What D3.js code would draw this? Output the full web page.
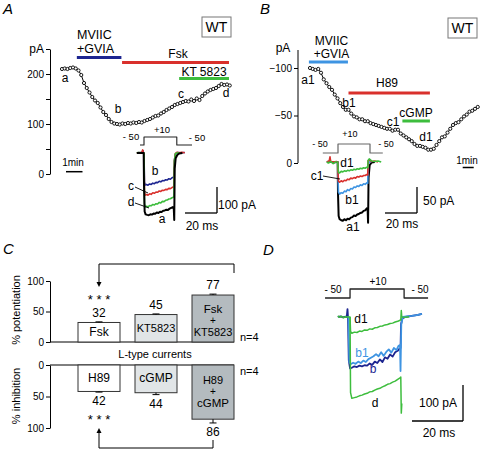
<!DOCTYPE html>
<html><head><meta charset="utf-8">
<script src="https://cdn.jsdelivr.net/npm/d3@7/dist/d3.min.js"></script>
<style>
body{margin:0;background:#fff}
svg{font-family:"Liberation Sans",Arial,sans-serif;display:block}
</style></head><body>
<svg id="c" width="480" height="450"></svg>
<script>
// ================= DATA =================
// Panel A time course (pA), one sample every 10 s
const tcA_dt = 1/6;
const tcA_pA = [210,211,210,212,213,211,207,198,182,172,163,154,147,142,133,124,118,110,104,101,
  100,99,101,100,102,101,103,102,104,103,106,108,110,113,116,117,121,124,128,131,
  134,138,140,142,144,146,145,149,146,151,148,156,161,165,168,170,172,176,180,178,179,177];
const drugA_names = ["MVIIC","Fsk","KT 5823"];
const drugA_start = [0.9, 3.64, 7.1];
const drugA_end = [3.6, 10.12, 10.12];
const tickA = [0,50,100,150,200,250];

// Panel B time course (pA), one sample every 15 s
const tcB_dt = 0.25;
const tcB_pA = [-100,-99,-98,-99,-95,-88,-84,-80,-77,-72,-68,-63,-59,-56,-56,-52,-49,-48,-46,-46,
  -44,-44,-42,-41,-40,-39,-38,-37,-36,-36,-34,-35,-35,-31,-29,-27,-25,-23,-20,-18,
  -18,-17,-16,-14,-14,-15,-19,-23,-27,-28,-32,-36,-40,-42,-43,-46,-49,-51,-54,-55,-57,-59];
const drugB_names = ["MVIIC","H89","cGMP"];
const drugB_start = [-0.1, 3.5, 8.4];
const drugB_end = [3.45, 10.9, 10.9];
const tickB = [-100,-50,0];

// Current traces [ms, pA]
const trA_a = [[-4.5,0],[-2.5,1],[-0.8,0],[-0.2,0],[0,-120],[0.4,-225],[1,-236],[2,-238],[3,-239],[4,-236],[5,-237],[6,-233],[7,-234],[8,-229],[9,-231],[10,-226],[11,-227],[12,-222],[13,-221],[14,-218],[15,-219],[16,-214],[17,-211],[18,-208],[18.6,-212],[18.9,-258],[19.2,-60],[19.8,-20],[20.8,-8],[22,-2],[24,0]];
const trA_b = [[-1.2,0],[-0.6,9],[-0.3,0],[0,0],[0.3,-112],[0.8,-123],[1.5,-121],[2.5,-124],[3.5,-119],[4.5,-121],[5.5,-116],[6.5,-118],[7.5,-113],[8.5,-114],[9.5,-109],[10.5,-111],[11.5,-106],[12.5,-107],[13.5,-103],[14.5,-104],[15.5,-99],[16.5,-101],[17.5,-95],[18.3,-93],[18.7,-90],[19,-30],[19.6,-4],[21,2],[23,1],[25.5,2]];
const trA_c = [[-4.5,1],[-3,0],[-1.5,1],[-0.8,12],[-0.4,0],[0,0],[0.3,-150],[0.8,-162],[1.5,-160],[2.5,-162],[3.5,-157],[4.5,-159],[5.5,-153],[6.5,-155],[7.5,-150],[8.5,-151],[9.5,-146],[10.5,-148],[11.5,-143],[12.5,-144],[13.5,-140],[14.5,-141],[15.5,-136],[16.5,-137],[17.5,-133],[18.3,-131],[18.7,-130],[19,-30],[19.6,-2],[20.5,3],[22,1],[23.5,3],[25.5,1]];
const trA_d = [[-4.5,0],[-3.5,2],[-2.5,-1],[-1.5,1],[-0.5,0],[0,0],[0.3,-196],[0.8,-207],[1.5,-205],[2.5,-207],[3.5,-202],[4.5,-203],[5.5,-198],[6.5,-200],[7.5,-195],[8.5,-196],[9.5,-190],[10.5,-192],[11.5,-186],[12.5,-187],[13.5,-182],[14.5,-181],[15.5,-177],[16.5,-176],[17.5,-172],[18.3,-170],[18.7,-168],[19,-30],[19.6,-3],[20.5,0],[22,1]];

const trB_a1 = [[-7,0],[-5,1],[-3,-1],[-1,0],[-0.2,0],[0,-60],[0.4,-104],[1,-110],[2,-112],[3,-113],[4,-110],[5,-112],[6,-109],[7,-110],[8,-107],[9,-106],[10,-103],[11,-104],[12,-101],[13,-100],[14,-98],[15,-97],[16,-94],[17,-93],[18,-89],[18.5,-90],[18.8,-117],[19.1,-30],[19.8,-6],[21,-1],[23,0]];
const trB_b1 = [[-0.2,0],[0,-30],[0.3,-58],[1,-62],[2,-59],[3,-60],[4,-56],[5,-57],[6,-53],[7,-55],[8,-51],[9,-52],[10,-48],[11,-49],[12,-46],[13,-47],[14,-44],[15,-45],[16,-42],[17,-43],[18,-40],[18.6,-41],[18.8,-5],[19.5,0],[21,1]];
const trB_c1 = [[-7,0],[-5.5,2],[-5,10],[-4.6,1],[-3,0],[-1,1],[-0.2,0],[0,-20],[0.3,-37],[1,-39],[2,-36],[3,-38],[4,-35],[5,-36],[6,-33],[7,-34],[8,-31],[9,-32],[10,-30],[11,-31],[12,-28],[13,-29],[14,-27],[15,-28],[16,-26],[17,-26],[18,-24],[18.6,-25],[18.8,2],[19.5,4],[21,1],[23,2],[25,0]];
const trB_d1 = [[-7,0],[-6,-2],[-4.5,1],[-3,-3],[-1.5,0],[-0.2,0],[0,-10],[0.3,-20],[1,-21],[2,-18],[3,-19],[4,-17],[5,-18],[6,-16],[7,-17],[8,-15],[9,-16],[10,-14],[11,-15],[12,-13],[13,-14],[14,-12],[15,-13],[16,-11],[17,-12],[18,-10],[18.6,-11],[18.8,3],[19.5,6],[21,2],[23,1],[25,2],[27,0]];

const trD_b = [[-4,0],[-3,2],[-2,-1],[-1,1],[-0.5,0],[-0.2,22],[0,0],[0.3,-120],[0.8,-143],[1.5,-141],[2.5,-137],[3.5,-139],[4.5,-135],[5.5,-137],[6.5,-134],[7.5,-135],[8.5,-129],[9.5,-133],[10.5,-124],[11.5,-128],[12.5,-118],[13.5,-125],[14.5,-112],[15.5,-116],[16.5,-104],[17.5,-110],[18.5,-98],[19.5,-94],[20.2,-88],[20.6,-86],[20.8,-20],[21.3,-4],[22.5,0],[25,3],[27.5,6],[29,9]];
const trD_b1 = [[-0.2,0],[0.2,0],[0.5,-125],[1,-131],[2,-127],[3,-130],[4,-124],[5,-128],[6,-121],[7,-125],[8,-117],[9,-113],[10,-109],[11,-103],[12,-109],[13,-98],[14,-108],[15,-97],[16,-90],[17,-99],[18,-86],[19,-92],[19.8,-80],[20.4,-78],[20.6,-150],[20.9,-20],[21.5,0],[23,2],[25,3],[27,5],[29,9]];
const trD_d1 = [[-4,3],[-3.3,-1],[-2.5,2],[-1.8,-2],[-1,1],[-0.3,0],[0.8,0],[1,-40],[1.5,-45],[2.5,-42],[3.5,-43],[4.5,-39],[5.5,-40],[6.5,-36],[7.5,-37],[8.5,-33],[9.5,-34],[10.5,-30],[11.5,-29],[12.5,-26],[13.5,-25],[14.5,-22],[15.5,-21],[16.5,-18],[17.5,-17],[18.5,-14],[19.5,-12],[20.4,-9],[20.7,-8],[20.9,18],[21.1,0],[22.5,-1],[24,1]];
const trD_d = [[0.8,0],[1,-210],[1.5,-226],[2.5,-224],[3.5,-222],[4.5,-219],[5.5,-217],[6.5,-214],[7.5,-212],[8.5,-208],[9.5,-207],[10.5,-203],[11.5,-200],[12.5,-198],[13.5,-194],[14.5,-191],[15.5,-187],[16.5,-185],[17.5,-181],[18.5,-178],[19.5,-173],[20.4,-169],[20.7,-167],[20.9,-267],[21.1,-240]];

// Voltage protocols [ms, mV]
const protoA = [[-2.5,-50],[0,-50],[0,10],[20.5,10],[20.5,-50],[30,-50]];
const protoB = [[-9.5,-50],[0,-50],[0,10],[20,10],[20,-50],[28,-50]];
const protoD = [[-9,-50],[0.8,-50],[0.8,10],[22,10],[22,-50],[31.4,-50]];

// Panel C bar chart
const potCats = ["Fsk","KT5823","Fsk + KT5823"];
const potVals = [32,45,77];
const potErr = [1,1,1.5];
const inhCats = ["H89","cGMP","H89 + cGMP"];
const inhVals = [42,44,86];
const inhErr = [1,3,6];
const tickC = [0,50,100];

// ================= DRAW =================
const svg = d3.select("#c");
const NAVY="#1d2590", RED="#d9302c", GREEN="#3dbd3d", LBLUE="#3e94e2";
const LIGHT="#e1e5e7", DARK="#b4bbbf";

function txt(x,y,s,o={}){
  const t=svg.append("text").attr("x",x).attr("y",y).text(s)
    .attr("font-size",o.size||12).style("fill",o.fill||"#000")
    .attr("text-anchor",o.anchor||"start");
  if(o.italic) t.attr("font-style","italic");
  if(o.rotate) t.attr("transform",`rotate(${o.rotate},${x},${y})`);
  return t;
}
function ln(x1,y1,x2,y2,o={}){
  return svg.append("line").attr("x1",x1).attr("y1",y1).attr("x2",x2).attr("y2",y2)
    .attr("stroke",o.stroke||"#000").attr("stroke-width",o.w||1);
}
function trace(data,xs,ys,color,w){
  svg.append("path").datum(data)
    .attr("d",d3.line().x(d=>xs(d[0])).y(d=>ys(d[1])))
    .attr("fill","none").attr("stroke",color).attr("stroke-width",w||1.5)
    .attr("stroke-linejoin","round");
}
function styleAxis(g,size){
  g.select(".domain").attr("stroke","#000").attr("stroke-width",1);
  g.selectAll(".tick line").attr("stroke","#000");
  g.selectAll(".tick text").attr("font-size",size||10).attr("fill","#000")
    .attr("font-family","Liberation Sans, Arial, sans-serif");
}

// Panel letters
txt(3,14,"A",{size:15,italic:true});
txt(260,14,"B",{size:15,italic:true});
txt(3,254,"C",{size:15,italic:true});
txt(263,255,"D",{size:15,italic:true});

// WT boxes
[[202,17],[448,18]].forEach(([x,y])=>{
  svg.append("rect").attr("x",x).attr("y",y).attr("width",29).attr("height",20)
    .attr("fill","#fff").attr("stroke","#777").attr("stroke-width",1);
  txt(x+14.5,y+15,"WT",{size:14,anchor:"middle"});
});

// ---------- Panel A time course ----------
const xA=d3.scaleLinear().domain([0,(tcA_pA.length-1)*tcA_dt]).range([62,229.75]);
const yA=d3.scaleLinear().domain([0,250]).range([174,49]);
const gA=svg.append("g").attr("transform","translate(50,0)")
  .call(d3.axisLeft(yA).tickValues(tickA).tickSize(4).tickSizeOuter(0).tickPadding(2)
    .tickFormat(d=>d===250?"pA":(d%100===0?d:"")));
styleAxis(gA,10);
gA.selectAll(".tick text").filter(d=>d===250).attr("font-size",12);
const ptsA=tcA_pA.map((v,i)=>[i*tcA_dt,v]);
svg.append("path").datum(ptsA).attr("d",d3.line().x(d=>xA(d[0])).y(d=>yA(d[1])))
  .attr("fill","none").attr("stroke","#000").attr("stroke-width",1);
svg.append("g").selectAll("circle").data(ptsA).join("circle")
  .attr("cx",d=>xA(d[0])).attr("cy",d=>yA(d[1])).attr("r",1.6)
  .attr("fill","#fff").attr("stroke","#000").attr("stroke-width",0.9);
const drugAy=[57.5,62.5,78.5], drugAc=[NAVY,RED,GREEN];
drugA_names.forEach((n,i)=>ln(xA(drugA_start[i]),drugAy[i],xA(drugA_end[i]),drugAy[i],{stroke:drugAc[i],w:3}));
txt(77,39,drugA_names[0],{size:12.5});
txt(77,53,"+GVIA",{size:12.5});
txt(178,58,drugA_names[1],{size:12,anchor:"middle"});
txt(204,76,drugA_names[2],{size:12,anchor:"middle"});
txt(65,82,"a",{size:12,anchor:"middle",fill:"#000"});
txt(118,113,"b",{size:12,anchor:"middle",fill:"#000"});
txt(181,98,"c",{size:12,anchor:"middle",fill:"#000"});
txt(226,97,"d",{size:12,anchor:"middle",fill:"#000"});
ln(66,171.7,66+(xA(1)-xA(0)),171.7,{w:1.5});
txt(73,166,"1min",{size:10,anchor:"middle"});

// ---------- Panel A traces ----------
const txA=d3.scaleLinear().domain([0,20]).range([144,176]);
const tyA=d3.scaleLinear().domain([0,-100]).range([153,179]);
const vA=d3.scaleLinear().domain([-50,10]).range([145,137]);
trace(protoA,txA,vA,"#222",1.1);
txt(131,140,"- 50",{size:9.5,anchor:"middle"});
txt(162,133,"+10",{size:9.5,anchor:"middle"});
txt(197,141,"- 50",{size:9.5,anchor:"middle"});
trace(trA_b,txA,tyA,NAVY,1.6);
trace(trA_c,txA,tyA,RED,1.6);
trace(trA_d,txA,tyA,GREEN,1.6);
trace(trA_a,txA,tyA,"#000",2);
txt(155,175,"b",{size:12,anchor:"middle"});
txt(131,190,"c",{size:12,anchor:"middle"});
ln(135,187,148,193,{w:0.9});
txt(131,206,"d",{size:12,anchor:"middle"});
ln(135,203,149,208,{w:0.9});
txt(162,223,"a",{size:12,anchor:"middle"});
// scale bars A
const sbA_y0=187, sbA_h=tyA(-100)-tyA(0), sbA_w=txA(20)-txA(0);
ln(217,sbA_y0,217,sbA_y0+sbA_h,{w:1.3});
ln(217-sbA_w,sbA_y0+sbA_h,217,sbA_y0+sbA_h,{w:1.3});
txt(218,209,"100 pA",{size:12});
txt(202,230,"20 ms",{size:12,anchor:"middle"});

// ---------- Panel B time course ----------
const xB=d3.scaleLinear().domain([0,(tcB_pA.length-1)*tcB_dt]).range([310,477.75]);
const yB=d3.scaleLinear().domain([0,-120]).range([163,49]);
const gB=svg.append("g").attr("transform","translate(298,0)")
  .call(d3.axisLeft(yB).tickValues(tickB).tickSize(4).tickSizeOuter(0).tickPadding(2));
styleAxis(gB,10);
gB.select(".domain").attr("d","M0,163V50");
txt(283,52,"pA",{size:12,anchor:"middle"});
const ptsB=tcB_pA.map((v,i)=>[i*tcB_dt,v]);
svg.append("path").datum(ptsB).attr("d",d3.line().x(d=>xB(d[0])).y(d=>yB(d[1])))
  .attr("fill","none").attr("stroke","#000").attr("stroke-width",1);
svg.append("g").selectAll("circle").data(ptsB).join("circle")
  .attr("cx",d=>xB(d[0])).attr("cy",d=>yB(d[1])).attr("r",1.6)
  .attr("fill","#fff").attr("stroke","#000").attr("stroke-width",0.9);
const drugBy=[62,93,121], drugBc=[LBLUE,RED,GREEN];
drugB_names.forEach((n,i)=>ln(xB(drugB_start[i]),drugBy[i],xB(drugB_end[i]),drugBy[i],{stroke:drugBc[i],w:3}));
txt(331.5,45,drugB_names[0],{size:12,anchor:"middle"});
txt(331.5,58,"+GVIA",{size:12,anchor:"middle"});
txt(387,87,drugB_names[1],{size:12,anchor:"middle"});
txt(416,117,drugB_names[2],{size:12,anchor:"middle"});
txt(308,84,"a1",{size:12,anchor:"middle"});
txt(349,107,"b1",{size:12,anchor:"middle"});
txt(393,126,"c1",{size:12,anchor:"middle"});
txt(426,141,"d1",{size:12,anchor:"middle"});
ln(462.7,167.5,462.7+(xB(1)-xB(0)),167.5,{w:1.5});
txt(467,164,"1min",{size:10,anchor:"middle"});

// ---------- Panel B traces ----------
const txB=d3.scaleLinear().domain([0,20]).range([338,370]);
const tyB=d3.scaleLinear().domain([0,-50]).range([162,188]);
const vB=d3.scaleLinear().domain([-50,10]).range([153,144]);
trace(protoB,txB,vB,"#666",1.2);
txt(320,147,"- 50",{size:9,anchor:"middle"});
txt(350,137,"+10",{size:9,anchor:"middle"});
txt(386,147,"- 50",{size:9,anchor:"middle"});
trace(trB_a1,txB,tyB,"#000",2);
trace(trB_b1,txB,tyB,LBLUE,1.6);
trace(trB_c1,txB,tyB,RED,1.6);
trace(trB_d1,txB,tyB,GREEN,1.6);
txt(347,167,"d1",{size:12,anchor:"middle"});
txt(317,180,"c1",{size:12,anchor:"middle"});
ln(323,176,340,179,{w:0.9});
txt(352,204,"b1",{size:12,anchor:"middle"});
txt(353,231,"a1",{size:12,anchor:"middle"});
const sbB_y0=187, sbB_h=tyB(-50)-tyB(0), sbB_w=txB(20)-txB(0);
ln(417,sbB_y0,417,sbB_y0+sbB_h,{w:1.3});
ln(417-sbB_w,sbB_y0+sbB_h,417,sbB_y0+sbB_h,{w:1.3});
txt(423,205,"50 pA",{size:12});
txt(402,228,"20 ms",{size:12,anchor:"middle"});

// ---------- Panel C ----------
const xC=d3.scaleBand().domain([0,1,2]).range([78,234]).paddingInner(15/57).paddingOuter(0);
const bw=xC.bandwidth();
const yPot=d3.scaleLinear().domain([0,100]).range([342,281]);
const yInh=d3.scaleLinear().domain([0,100]).range([365,428]);
const fills=["#fff",LIGHT,DARK];
const gC1=svg.append("g").attr("transform","translate(50,0)")
  .call(d3.axisLeft(yPot).tickValues(tickC).tickSize(4).tickSizeOuter(0).tickPadding(2));
styleAxis(gC1,10);
const gC2=svg.append("g").attr("transform","translate(50,0)")
  .call(d3.axisLeft(yInh).tickValues(tickC).tickSize(4).tickSizeOuter(0).tickPadding(2));
styleAxis(gC2,10);
ln(50,yPot(0),234,yPot(0));
ln(50,yInh(0),234,yInh(0));
txt(20,310,"% potentiation",{size:11,anchor:"middle",rotate:-90});
txt(20,396,"% inhibition",{size:11,anchor:"middle",rotate:-90});
txt(155,358,"L-type currents",{size:11,anchor:"middle"});
txt(240,341,"n=4",{size:11});
txt(240,375,"n=4",{size:11});

potVals.forEach((v,i)=>{
  const x=xC(i), cx=x+bw/2;
  svg.append("rect").attr("x",x).attr("y",yPot(v)).attr("width",bw).attr("height",yPot(0)-yPot(v))
    .attr("fill",fills[i]).attr("stroke","#333").attr("stroke-width",1);
  ln(cx,yPot(v),cx,yPot(v+potErr[i]));
  ln(cx-3.5,yPot(v+potErr[i]),cx+3.5,yPot(v+potErr[i]));
  txt(cx,yPot(v+potErr[i])-5,v,{size:12,anchor:"middle"});
  const parts=potCats[i].split(" + ");
  const b=yPot(0);
  if(parts.length===1){
    txt(cx,b-(b-yPot(v))/2+4,parts[0],{size:parts[0].length>4?11:12,anchor:"middle"});
  } else {
    txt(cx,b-29,parts[0],{size:11.5,anchor:"middle"});
    txt(cx,b-18,"+",{size:10,anchor:"middle"});
    txt(cx,b-6,parts[1],{size:11,anchor:"middle"});
  }
});
inhVals.forEach((v,i)=>{
  const x=xC(i), cx=x+bw/2;
  svg.append("rect").attr("x",x).attr("y",yInh(0)).attr("width",bw).attr("height",yInh(v)-yInh(0))
    .attr("fill",fills[i]).attr("stroke","#333").attr("stroke-width",1);
  ln(cx,yInh(v),cx,yInh(v+inhErr[i]));
  ln(cx-3.5,yInh(v+inhErr[i]),cx+3.5,yInh(v+inhErr[i]));
  txt(cx,yInh(v+inhErr[i])+13,v,{size:12,anchor:"middle"});
  const parts=inhCats[i].split(" + ");
  const t=yInh(0);
  if(parts.length===1){
    txt(cx,t+17,parts[0],{size:12,anchor:"middle"});
  } else {
    txt(cx,t+19,parts[0],{size:11,anchor:"middle"});
    txt(cx,t+30,"+",{size:10,anchor:"middle"});
    txt(cx,t+42,parts[1],{size:11.5,anchor:"middle"});
  }
});
// significance brackets
const c0=xC(0)+bw/2, c2=xC(2)+bw/2, r2=xC(2)+bw;
svg.append("path").attr("d",`M${c0},283 V264 H${r2} V273`).attr("fill","none").attr("stroke","#000");
svg.append("path").attr("d",`M${c0-2.5},282 L${c0+2.5},282 L${c0},287 Z`).attr("fill","#000");
svg.append("path").attr("d",`M${c0},432 V448 H${c2} V440`).attr("fill","none").attr("stroke","#000");
svg.append("path").attr("d",`M${c0-2.5},433 L${c0+2.5},433 L${c0},428 Z`).attr("fill","#000");
txt(c0,304,"* * *",{size:13,anchor:"middle"});
txt(c0,424,"* * *",{size:13,anchor:"middle"});

// ---------- Panel D ----------
const txD=d3.scaleLinear().domain([0,20]).range([348,399]);
const tyD=d3.scaleLinear().domain([0,-100]).range([317,353]);
const vD=d3.scaleLinear().domain([-50,10]).range([298,289]);
trace(protoD,txD,vD,"#222",1.3);
txt(333,293,"- 50",{size:10,anchor:"middle"});
txt(378,285,"+10",{size:10,anchor:"middle"});
txt(420,293,"- 50",{size:10,anchor:"middle"});
trace(trD_b,txD,tyD,NAVY,1.8);
trace(trD_b1,txD,tyD,LBLUE,1.8);
trace(trD_d,txD,tyD,GREEN,1.5);
trace(trD_d1,txD,tyD,GREEN,1.5);
txt(361,323,"d1",{size:12,anchor:"middle"});
txt(362,357,"b1",{size:12,anchor:"middle",fill:LBLUE});
txt(373,373,"b",{size:12,anchor:"middle",fill:NAVY});
txt(375,407,"d",{size:12,anchor:"middle"});
const sbD_y0=385, sbD_h=tyD(-100)-tyD(0), sbD_w=txD(20)-txD(0);
ln(463,sbD_y0,463,sbD_y0+sbD_h,{w:1.3});
ln(463-sbD_w,sbD_y0+sbD_h,463,sbD_y0+sbD_h,{w:1.3});
txt(438,407,"100 pA",{size:12,anchor:"middle"});
txt(439,437,"20 ms",{size:12,anchor:"middle"});
</script>
</body></html>
